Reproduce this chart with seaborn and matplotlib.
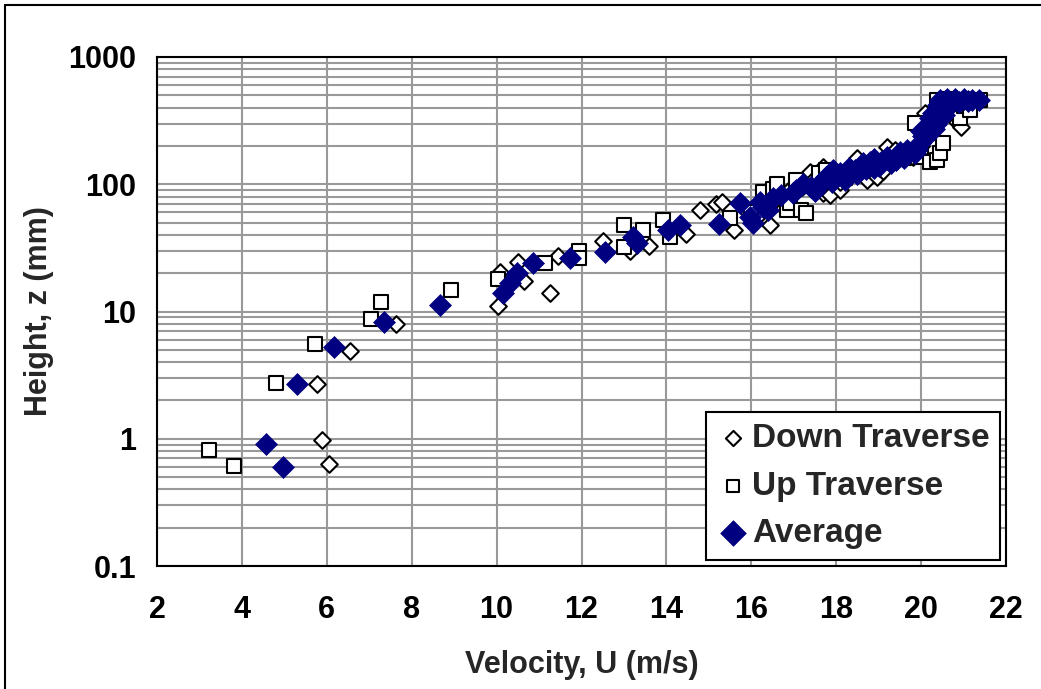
import matplotlib
matplotlib.use("Agg")
import matplotlib.pyplot as plt
import seaborn as sns
from matplotlib.lines import Line2D
from matplotlib.ticker import FixedLocator, LogLocator, NullFormatter

# ---------------- data ----------------
down_u = [6.05, 5.88, 5.78, 6.55, 7.62, 10.03, 10.08, 10.50, 10.65, 11.25, 11.45, 12.50, 13.15,
          13.60, 14.45, 14.78, 15.18, 15.32, 15.60, 15.90, 16.20, 16.45, 16.55, 16.90, 17.20,
          17.38, 17.45, 17.70, 17.70, 17.85, 18.09, 18.10, 18.30, 18.50, 18.72, 18.90, 18.95,
          19.10, 19.19, 19.39, 19.55, 19.80, 20.00, 20.09, 20.20, 20.35, 20.50, 20.70, 20.85,
          20.95, 21.05, 21.20]
down_z = [0.63, 0.98, 2.68, 4.85, 8.0, 11.1, 20.5, 24.5, 17.5, 13.9, 27.5, 35.5, 30.0,
          33.0, 40.5, 63.0, 70.0, 72.0, 44.0, 62.0, 58.0, 47.5, 75.0, 92.0, 96.0,
          125.0, 108.0, 137.0, 85.0, 82.0, 90.0, 105.0, 118.0, 160.0, 108.0, 138.0, 115.0,
          128.0, 197.0, 186.0, 175.0, 165.0, 200.0, 363.0, 330.0, 400.0, 440.0, 450.0, 310.0,
          280.0, 380.0, 440.0]

up_u = [3.23, 3.81, 4.80, 5.72, 7.03, 7.28, 8.93, 10.04, 11.14, 11.95, 11.95, 12.99, 12.99,
        13.46, 13.93, 14.08, 15.50, 16.00, 16.28, 16.50, 16.60, 16.83, 16.90, 17.05, 17.18,
        17.30, 17.60, 17.77, 18.20, 18.50, 18.90, 19.30, 19.60, 19.86, 20.00, 20.21, 20.37,
        20.44, 20.52, 20.37, 20.60, 20.80, 20.92, 21.00, 21.15, 21.39]
up_z = [0.82, 0.61, 2.73, 5.58, 8.8, 11.8, 14.8, 18.0, 23.9, 30.0, 26.5, 47.8, 32.3,
        43.7, 52.0, 38.3, 54.0, 60.0, 87.5, 92.0, 100.0, 63.0, 71.0, 108.0, 63.0,
        59.0, 122.0, 129.0, 112.0, 128.0, 140.0, 150.0, 160.0, 303.0, 165.0, 150.0, 155.0,
        175.0, 210.0, 459.0, 470.0, 460.0, 330.0, 410.0, 383.0, 459.0]

avg_u = [4.57, 4.96, 5.29, 6.17, 7.35, 8.66, 10.14, 10.32, 10.47, 10.85, 11.73, 12.55, 13.22,
         13.30, 14.04, 14.32, 15.24, 15.73, 15.97, 16.05, 16.28, 16.40, 16.52, 16.99, 17.05,
         17.22, 17.40, 17.54, 17.65, 17.77, 17.93, 18.09, 18.30, 18.45, 18.64, 18.80, 18.90,
         19.05, 19.19, 19.40, 19.55, 19.66, 19.85, 19.98, 20.05, 20.13, 20.20, 20.29, 20.35,
         20.44, 20.50, 20.55, 20.60, 20.70, 20.80, 20.90, 21.00, 21.10, 21.20, 21.36,
         17.50, 17.90, 18.20, 18.50, 18.70, 19.00, 19.30, 19.60, 19.90, 20.10, 20.30, 20.40,
         20.50, 18.30, 18.90, 19.50, 20.00, 20.25, 20.40, 16.20, 16.70]
avg_z = [0.91, 0.60, 2.7, 5.29, 8.22, 11.2, 13.9, 16.7, 19.9, 23.9, 26.2, 29.5, 38.7,
         34.3, 44.0, 47.8, 48.7, 70.8, 55.6, 50.0, 66.7, 62.9, 77.8, 84.9, 90.0,
         101.0, 95.0, 96.0, 105.0, 114.7, 129.0, 122.0, 118.0, 130.0, 146.0, 150.0, 135.0,
         150.0, 165.0, 155.0, 168.0, 186.0, 175.0, 210.0, 240.0, 283.0, 330.0, 361.0, 300.0,
         459.0, 400.0, 350.0, 470.0, 430.0, 470.0, 440.0, 465.0, 450.0, 460.0, 459.0,
         88.0, 105.0, 108.0, 120.0, 132.0, 140.0, 148.0, 160.0, 190.0, 230.0, 270.0, 330.0,
         380.0, 135.0, 158.0, 180.0, 260.0, 320.0, 420.0, 72.0, 82.0]

x_ticks = [2, 4, 6, 8, 10, 12, 14, 16, 18, 20, 22]
y_ticks = [0.1, 1, 10, 100, 1000]
y_tick_labels = ["0.1", "1", "10", "100", "1000"]

# ---------------- style ----------------
sns.set_style("white")
plt.rcParams["font.family"] = ["Liberation Sans", "DejaVu Sans"]
plt.rcParams["font.weight"] = "bold"

fig = plt.figure(figsize=(10.41, 6.89), dpi=100)
ax = fig.add_axes([157 / 1041, 1 - 566 / 689, (1006 - 157) / 1041, (566 - 57) / 689])

sns.scatterplot(x=down_u, y=down_z, marker="D", s=72, color="white", edgecolor="black",
                linewidth=1.5, ax=ax, label="Down Traverse", zorder=3)
sns.scatterplot(x=up_u, y=up_z, marker="s", s=95, color="white", edgecolor="black",
                linewidth=1.5, ax=ax, label="Up Traverse", zorder=4)
sns.scatterplot(x=avg_u, y=avg_z, marker="D", s=125, color="#000080", edgecolor="#000080",
                linewidth=0.5, ax=ax, label="Average", zorder=5)

ax.set_yscale("log")
ax.set_xlim(2, 22)
ax.set_ylim(0.1, 1000)
ax.xaxis.set_major_locator(FixedLocator(x_ticks))
ax.set_xticks(x_ticks)
ax.set_xticklabels([str(t) for t in x_ticks])
ax.set_yticks(y_ticks)
ax.set_yticklabels(y_tick_labels)
ax.yaxis.set_minor_locator(LogLocator(base=10, subs=range(2, 10)))
ax.yaxis.set_minor_formatter(NullFormatter())

ax.grid(True, which="major", axis="both", color="#999999", linewidth=1.5, zorder=0)
ax.grid(True, which="minor", axis="y", color="#999999", linewidth=1.5, zorder=0)
ax.set_axisbelow(True)

ax.tick_params(axis="x", which="major", direction="out", length=7, width=1.2,
               labelsize=22, pad=14, colors="black")
ax.tick_params(axis="y", which="major", direction="out", length=7, width=1.2,
               labelsize=22, pad=8, colors="black")
ax.tick_params(axis="y", which="minor", length=0)
for lab in ax.get_xticklabels() + ax.get_yticklabels():
    lab.set_fontweight("bold")

for side in ["left", "bottom", "right", "top"]:
    ax.spines[side].set_color("black")
    ax.spines[side].set_linewidth(1.5)
    ax.spines[side].set_visible(True)

ax.set_xlabel("Velocity, U (m/s)", fontsize=22, fontweight="bold", labelpad=18)
ax.set_ylabel("Height, z (mm)", fontsize=22, fontweight="bold", labelpad=10)

leg = ax.legend(loc="lower right", bbox_to_anchor=(0.993, 0.012), borderaxespad=0,
                frameon=True, fancybox=False, framealpha=1, edgecolor="black",
                prop={"size": 24, "weight": "bold"}, handletextpad=0.05,
                labelspacing=0.5, borderpad=0.32, handlelength=1.0)
leg.get_frame().set_linewidth(1.5)
handles = leg.legend_handles
handles[0].set_sizes([60])
handles[1].set_sizes([80])
handles[2].set_sizes([170])

# figure frame (top and left edges visible)
fig.add_artist(Line2D([5 / 1041, 1.0], [1 - 5 / 689, 1 - 5 / 689], transform=fig.transFigure,
                      color="black", linewidth=1.5))
fig.add_artist(Line2D([5 / 1041, 5 / 1041], [0.0, 1 - 5 / 689], transform=fig.transFigure,
                      color="black", linewidth=1.5))

fig.savefig("out.png", dpi=100)
